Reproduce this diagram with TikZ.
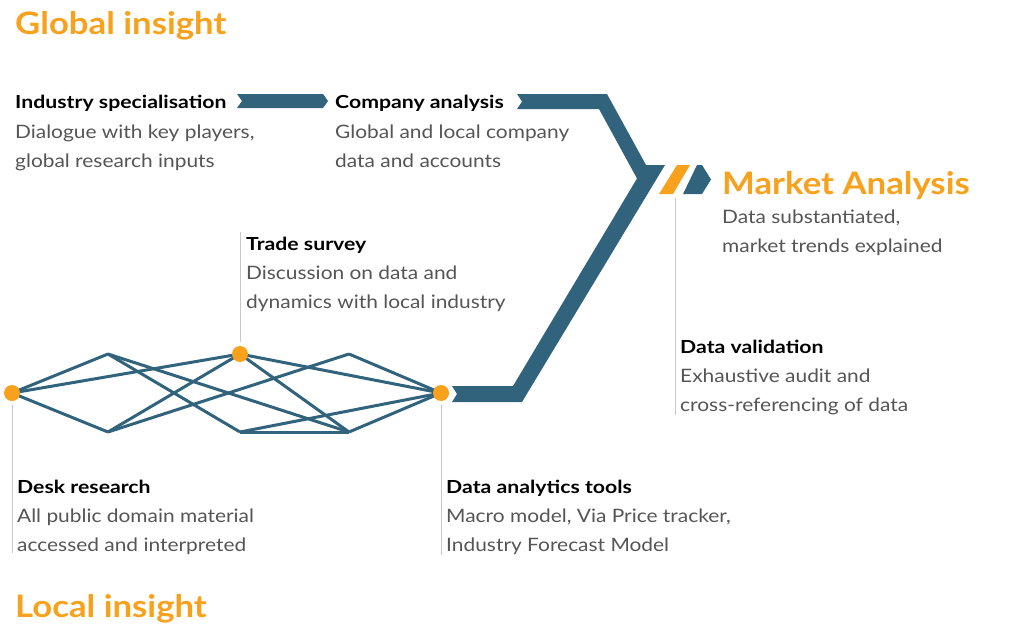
\documentclass[tikz,border=0pt]{standalone}
\usepackage{fontspec}
\setmainfont{Lato}
\newfontfamily\headfont{Lato}[FakeStretch=1.18]
\newfontfamily\bodyfont{Lato}[FakeStretch=1.13]
\newfontfamily\titlefont{Lato}[FakeStretch=1.12]
\definecolor{bandblue}{HTML}{31637D}
\definecolor{accent}{HTML}{F7A11C}
\definecolor{bodygray}{HTML}{555555}
\definecolor{rulegray}{HTML}{C8C8C8}
\begin{document}
\begin{tikzpicture}[x=1pt,y=-1pt,
  head/.style={anchor=base west, inner sep=0pt, font=\headfont\fontsize{18}{20}\selectfont\bfseries, text=black},
  body/.style={anchor=base west, inner sep=0pt, font=\bodyfont\fontsize{18.5}{20}\selectfont, text=bodygray},
  title/.style={anchor=base west, inner sep=0pt, font=\titlefont\fontsize{31}{34}\selectfont\bfseries, text=accent},
  edge/.style={draw=bandblue, line width=3pt},
  dot/.style={circle, fill=accent, minimum size=16pt, inner sep=0pt},
  rule/.style={draw=rulegray, line width=1pt},
  band/.style={fill=bandblue}]
\useasboundingbox (0,0) rectangle (1024,642);

% titles
\node[title] (tglobal) at (15,35) {Global insight};
\node[title] (tlocal) at (15,617) {Local insight};
\node[title] (tmarket) at (722,194) {Market Analysis};

% bands
\fill[band] (237,94) -- (323,94) -- (328,101) -- (323,108) -- (237,108) -- (242,101) -- cycle;
\fill[band] (452,386) -- (513,386) -- (637,178.5) -- (599,109) -- (517,109) -- (522,101.5) -- (517,94)
  -- (607,94) -- (646,165) -- (665,165) -- (522,402) -- (452,402) -- (457,394) -- cycle;
\fill[accent] (659,194) -- (673,194) -- (690,165) -- (677,165) -- cycle;
\fill[band] (683,194) -- (702,194) -- (711,179.5) -- (702,165) -- (697,165) -- cycle;

% network
\coordinate (L) at (12,393);
\coordinate (A) at (108,354);
\coordinate (T) at (240,354);
\coordinate (G) at (349,354);
\coordinate (D) at (108,432);
\coordinate (E) at (240,432);
\coordinate (F) at (349,432);
\coordinate (R) at (441,393);
\draw[edge] (L) -- (A);
\draw[edge] (L) -- (T);
\draw[edge] (L) -- (D);
\draw[edge] (A) -- (E);
\draw[edge] (A) -- (F);
\draw[edge] (T) -- (D);
\draw[edge] (T) -- (F);
\draw[edge] (T) -- (R);
\draw[edge] (D) -- (G);
\draw[edge] (G) -- (R);
\draw[edge] (E) -- (F);
\draw[edge] (E) -- (R);
\draw[edge] (F) -- (R);
\node[dot] (dL) at (L) {};
\node[dot] (dT) at (T) {};
\node[dot] (dR) at (R) {};

% rules
\coordinate (rL1) at (12,405); \coordinate (rL2) at (12,553);
\coordinate (rT1) at (240,232); \coordinate (rT2) at (240,342);
\coordinate (rR1) at (441,405); \coordinate (rR2) at (441,555);
\coordinate (rM1) at (675,198); \coordinate (rM2) at (675,415);
\draw[rule] (rL1) -- (rL2);
\draw[rule] (rT1) -- (rT2);
\draw[rule] (rR1) -- (rR2);
\draw[rule] (rM1) -- (rM2);

% texts
\node[head] (h1) at (15,108) {Industry specialisation};
\node[body] (b1a) at (15,138) {Dialogue with key players,};
\node[body] (b1b) at (15,167) {global research inputs};

\node[head] (h2) at (335,108) {Company analysis};
\node[body] (b2a) at (335,138) {Global and local company};
\node[body] (b2b) at (335,167) {data and accounts};

\node[body] (b3a) at (722,223) {Data substantiated,};
\node[body] (b3b) at (722,252) {market trends explained};

\node[head] (h4) at (246,250) {Trade survey};
\node[body] (b4a) at (246,279) {Discussion on data and};
\node[body] (b4b) at (246,308) {dynamics with local industry};

\node[head] (h5) at (680,353) {Data validation};
\node[body] (b5a) at (680,382) {Exhaustive audit and};
\node[body] (b5b) at (680,411) {cross-referencing of data};

\node[head] (h6) at (17,493) {Desk research};
\node[body] (b6a) at (17,522) {All public domain material};
\node[body] (b6b) at (17,551) {accessed and interpreted};

\node[head] (h7) at (446,493) {Data analytics tools};
\node[body] (b7a) at (446,522) {Macro model, Via Price tracker,};
\node[body] (b7b) at (446,551) {Industry Forecast Model};
\end{tikzpicture}
\end{document}
